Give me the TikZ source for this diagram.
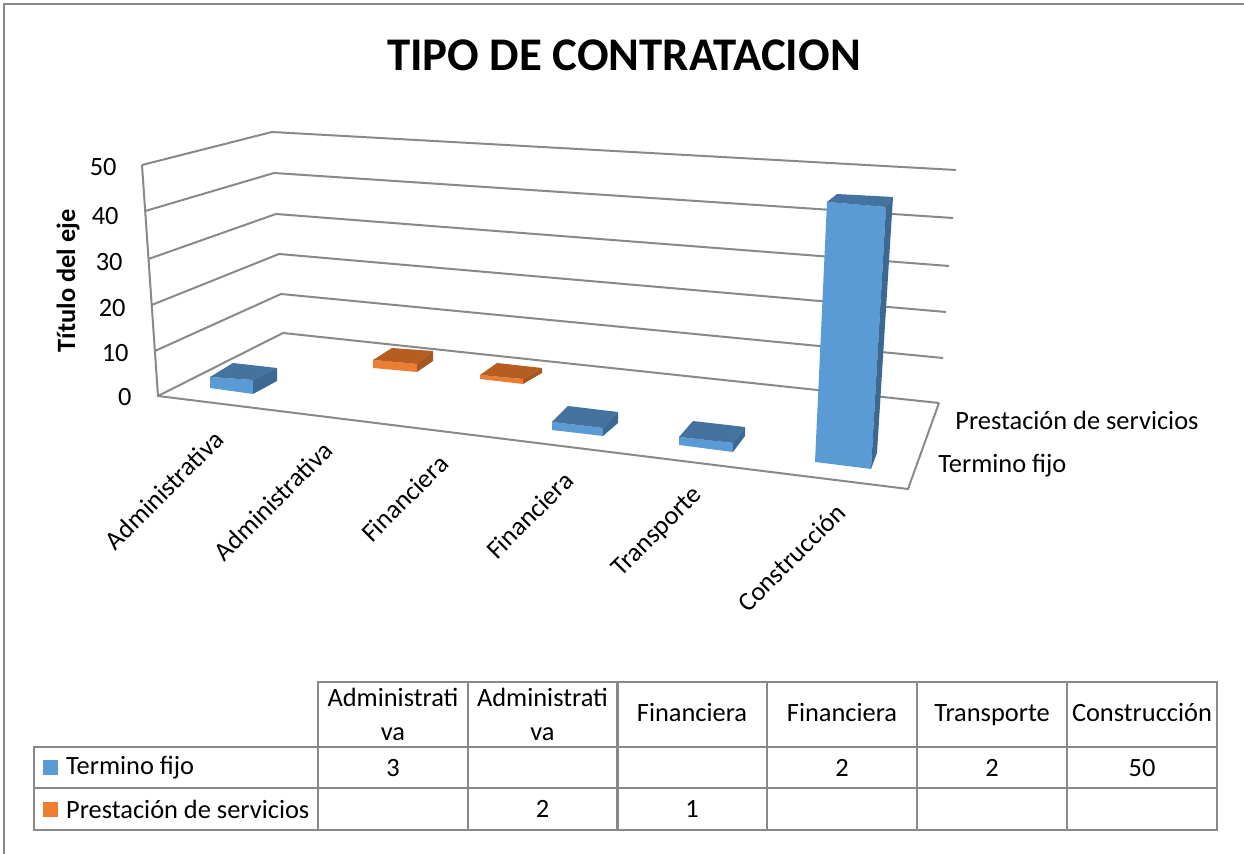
\documentclass[tikz,border=0pt]{standalone}
\usepackage{fontspec}
\setmainfont{Carlito}
\usetikzlibrary{positioning}
\definecolor{axisgray}{HTML}{898989}
\definecolor{tfront}{HTML}{5B9BD5}
\definecolor{ttop}{HTML}{44739F}
\definecolor{tside}{HTML}{3D6892}
\definecolor{pfront}{HTML}{ED7D31}
\definecolor{ptop}{HTML}{B65D22}
\definecolor{pside}{HTML}{A8561F}
\newcommand{\chartfont}{\fontsize{13.2}{17}\selectfont}
\tikzstyle{gridline}=[draw=axisgray,line width=1pt]
\tikzstyle{tick}=[font=\chartfont,anchor=east,inner sep=0pt]
\tikzstyle{catlabel}=[font=\chartfont,rotate=45,anchor=east,inner sep=0pt]
\tikzstyle{legendtext}=[font=\chartfont,anchor=base west,inner sep=0pt]
\tikzstyle{cell}=[draw=axisgray,line width=1pt,minimum width=75pt,minimum height=20.75pt,inner sep=0pt,font=\chartfont,align=center]
\tikzstyle{headcell}=[cell,minimum height=32.5pt]
\tikzstyle{labelcell}=[cell,minimum width=142pt]
\tikzstyle{legsquare}=[minimum size=7.5pt,inner sep=0pt]

\begin{document}
\begin{tikzpicture}[x=0.5pt,y=-0.5pt]
    \useasboundingbox (0,0) rectangle (1244,854);
    \draw[axisgray,line width=1pt] (4,854) -- (4,4) -- (1244,4);

    \node[font=\fontsize{23.4}{28}\selectfont\bfseries,inner sep=0pt] (title) at (624,55) {TIPO DE CONTRATACION};

    % walls and floor
    \foreach \ax/\ay/\bx/\by/\cx/\cy in {142/165/272/132/956/170, 145.3/211/274/173/953/218, 148.5/259/276/214/949/266, 151.7/305/279/254/946/312, 154.9/351/281/294/943/358, 158/396/283/333/939/403}
        \draw[gridline] (\ax,\ay) -- (\bx,\by) -- (\cx,\cy);
    \draw[gridline] (142,165) -- (158,396) -- (908,489) -- (939,403);

    \foreach \val/\px/\py in {50/117/167, 40/119/216, 30/123/262, 20/126/308, 10/129/353, 0/132/397}
        \node[tick] (tick\val) at (\px,\py) {\val};
    \node[font=\chartfont\bfseries,rotate=90,inner sep=0pt] (ytitle) at (68,281) {Título del eje};

    % Termino fijo bars
    \foreach \fbl/\fbr/\ftl/\ftr/\btl/\btr/\bbr in {{(210,388)/(253,394)/(210,377)/(253,380)/(233,363)/(277,368)/(277,381)},
        {(552,430)/(603,436)/(552,422)/(603,428)/(568,406)/(618,412)/(618,423)},
        {(679,445)/(733,452)/(679,437)/(733,443)/(693,421)/(745,427)/(745,436)},
        {(815,462)/(871,469)/(827,202)/(886,207)/(837,194)/(893,197)/(877,453)}}
    {
        \fill[tfront] \fbl -- \fbr -- \ftr -- \ftl -- cycle;
        \fill[ttop] \ftl -- \ftr -- \btr -- \btl -- cycle;
        \fill[tside] \fbr -- \bbr -- \btr -- \ftr -- cycle;
    }
    % Prestacion de servicios bars
    \foreach \fbl/\fbr/\ftl/\ftr/\btl/\btr/\bbr in {{(373,368)/(417,372)/(373,360)/(417,364)/(392,348)/(433,351)/(433,361)},
        {(480,379)/(523,384)/(480,375)/(523,379)/(497,363)/(542,368)/(542,373)}}
    {
        \fill[pfront] \fbl -- \fbr -- \ftr -- \ftl -- cycle;
        \fill[ptop] \ftl -- \ftr -- \btr -- \btl -- cycle;
        \fill[pside] \fbr -- \bbr -- \btr -- \ftr -- cycle;
    }

    \foreach \px/\py/\name/\txt in {219/435/c1/Administrativa, 328/446/c2/Administrativa, 444/459/c3/Financiera, 569/476/c4/Financiera, 699/491/c5/Transporte, 841/508/c6/Construcción}
        \node[catlabel] (\name) at (\px,\py) {\txt};

    \node[legendtext] (legp) at (955,430) {Prestación de servicios};
    \node[legendtext] (legt) at (938,473) {Termino fijo};

    % data table
    \foreach \x/\name/\txt in {393/h1/{Administrati\\va}, 542.5/h2/{Administrati\\va}, 692/h3/{\strut Financiera}, 842/h4/{\strut Financiera}, 992/h5/{\strut Transporte}, 1142/h6/{\strut Construcción}}
        \node[headcell] (\name) at (\x,714.5) {\txt};
    \foreach \x/\name/\txt in {393/t1/3, 542.5/t2/{}, 692/t3/{}, 842/t4/2, 992/t5/2, 1142/t6/50}
        \node[cell] (\name) at (\x,767.75) {\txt};
    \foreach \x/\name/\txt in {393/p1/{}, 542.5/p2/2, 692/p3/1, 842/p4/{}, 992/p5/{}, 1142/p6/{}}
        \node[cell] (\name) at (\x,809.25) {\txt};

    \node[labelcell] (lt) at (176,767.75) {};
    \node[labelcell] (lp) at (176,809.25) {};
    \node[legsquare,fill=tfront,right=5pt of lt.west] (sqt) {};
    \node[legsquare,fill=pfront,right=5pt of lp.west] (sqp) {};
    \node[font=\chartfont,inner sep=0pt,right=3.5pt of sqt] (txt) {Termino fijo};
    \node[font=\chartfont,inner sep=0pt,right=3.5pt of sqp] (txp) {Prestación de servicios};
\end{tikzpicture}
\end{document}
